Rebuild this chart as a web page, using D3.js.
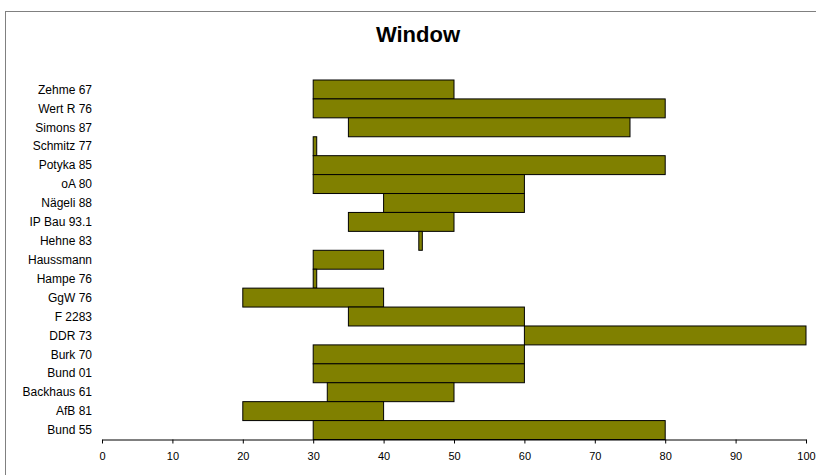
<!DOCTYPE html>
<html><head><meta charset="utf-8">
<script src="https://cdn.jsdelivr.net/npm/d3@7"></script>
<style>body{margin:0;background:#fff}svg{display:block}</style>
</head><body>
<svg id="c" width="816" height="475"></svg>
<script>
const categories = ["Zehme 67","Wert R 76","Simons 87","Schmitz 77","Potyka 85","oA 80","Nägeli 88","IP Bau 93.1","Hehne 83","Haussmann","Hampe 76","GgW 76","F 2283","DDR 73","Burk 70","Bund 01","Backhaus 61","AfB 81","Bund 55"];
const startValues = [30,30,35,30,30,30,40,35,45,30,30,20,35,60,30,30,32,20,30];
const endValues   = [50,80,75,30.5,80,60,60,50,45.5,40,30.5,40,60,100,60,60,50,40,80];
const xTicks = [0,10,20,30,40,50,60,70,80,90,100];
const title = "Window";

const svg = d3.select("#c");
const font = "'Liberation Sans', Arial, sans-serif";
svg.append("rect").attr("x",5.5).attr("y",11.5).attr("width",830).attr("height",480)
  .attr("fill","#fff").attr("stroke","#808080").attr("stroke-width",1);

const x = d3.scaleLinear().domain([0,100]).range([102,806]);
const y = d3.scaleBand().domain(categories).range([80,439.5]).padding(0);

svg.append("text").attr("x",418).attr("y",42).attr("text-anchor","middle")
  .attr("font-family",font).attr("font-weight","bold").attr("font-size",22).text(title);

const data = categories.map((c,i)=>({c, s:startValues[i], e:endValues[i]}));
svg.append("g").selectAll("rect").data(data).join("rect")
  .attr("x",d=>x(d.s)).attr("y",d=>y(d.c))
  .attr("width",d=>x(d.e)-x(d.s)).attr("height",y.bandwidth())
  .attr("fill","#808000").attr("stroke","#000").attr("stroke-width",1);

const ax = svg.append("g").attr("transform","translate(0,439.5)")
  .call(d3.axisBottom(x).tickValues(xTicks).tickSize(4).tickPadding(9).tickSizeOuter(0));
ax.select(".domain").attr("stroke","#000");
ax.selectAll(".tick line").attr("stroke","#000");
ax.selectAll("text").attr("font-family",font).attr("font-size",11).attr("fill","#000");

svg.append("g").selectAll("text").data(categories).join("text")
  .attr("x",92).attr("y",d=>y(d)+y.bandwidth()/2).attr("dy","0.35em")
  .attr("text-anchor","end").attr("font-family",font).attr("font-size",12).attr("fill","#000")
  .text(d=>d);
</script>
</body></html>
